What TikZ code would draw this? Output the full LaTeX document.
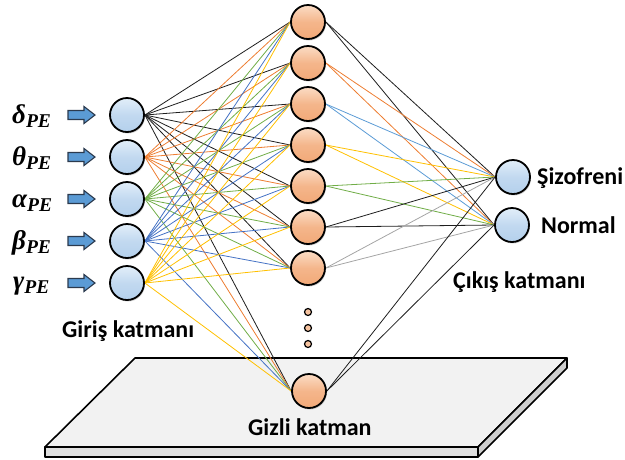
\documentclass[tikz,border=0pt]{standalone}
\usepackage{fontspec}
\setmainfont{Carlito}
\newfontfamily\greekfont{Liberation Serif}
\usetikzlibrary{shadows}
\pgfdeclarelayer{bg}
\pgfdeclarelayer{edges}
\pgfsetlayers{bg,edges,main}

\definecolor{cBlack}{HTML}{1E1E1E}
\definecolor{cOrange}{HTML}{ED7D31}
\definecolor{cGreen}{HTML}{70AD47}
\definecolor{cBlue}{HTML}{4472C4}
\definecolor{cLightBlue}{HTML}{5B9BD5}
\definecolor{cYellow}{HTML}{FFC000}
\definecolor{cGray}{HTML}{A5A5A5}
\definecolor{nodeBlue}{HTML}{B4D0EC}
\definecolor{nodeBlueLt}{HTML}{E2EEF9}
\definecolor{nodeOrange}{HTML}{F2A978}
\definecolor{nodeOrangeLt}{HTML}{FBDCC5}
\definecolor{plate}{HTML}{F2F2F2}
\definecolor{arrowFill}{HTML}{5B9BD5}
\definecolor{arrowEdge}{HTML}{2B3A4E}

% bold italic Greek letter with a bold italic subscript
\newcommand{\gsym}[1]{{\greekfont\bfseries\itshape #1\raisebox{-4pt}{\fontsize{19.5}{19.5}\selectfont PE}}}

\begin{document}
\begin{tikzpicture}[x=1pt,y=-1pt,
  neuron/.style={circle, minimum size=34pt, inner sep=0pt, draw=black, line width=1.8pt,
    drop shadow={shadow xshift=1pt, shadow yshift=-1.5pt, opacity=0.35}},
  bluen/.style={neuron, top color=nodeBlueLt, bottom color=nodeBlue, middle color=nodeBlue!70!nodeBlueLt},
  orangen/.style={neuron, top color=nodeOrangeLt, bottom color=nodeOrange, middle color=nodeOrange!75!nodeOrangeLt},
  dotn/.style={circle, minimum size=7pt, inner sep=0pt, draw=black, line width=1.2pt, fill=nodeOrange!70!white},
  inarrow/.style={draw=arrowEdge, fill=arrowFill, line width=1.1pt, line join=miter},
  lbl/.style={font=\fontsize{24}{26}\selectfont\bfseries, inner sep=0pt, anchor=base west},
  glbl/.style={font=\fontsize{27}{29}\selectfont, inner sep=0pt, anchor=base west},
  link/.style={line width=0.8pt}
]
\useasboundingbox (0,0) rectangle (625,459);

% platform under the hidden layer
\begin{pgfonlayer}{bg}
  \draw[line width=1.6pt, line join=round, fill=plate]
    (135,358) -- (567,358) -- (478,447) -- (45,447) -- cycle;
  \draw[line width=1.6pt, line join=round, fill=plate!92!black]
    (45,447) -- (478,447) -- (478,457) -- (45,457) -- cycle;
  \draw[line width=1.6pt, line join=round, fill=plate!85!black]
    (567,358) -- (567,368) -- (478,457) -- (478,447) -- cycle;
\end{pgfonlayer}

% input layer
\foreach \i/\y in {1/115,2/157,3/199,4/241,5/283}
  \node[bluen] (i\i) at (127,\y) {};

% hidden layer
\foreach \i/\y in {1/22,2/63,3/104,4/145,5/186,6/227,7/268}
  \node[orangen] (h\i) at (308,\y) {};
\node[orangen] (h8) at (309,391) {};
\node[dotn] (d1) at (308,312) {};
\node[dotn] (d2) at (308,328) {};
\node[dotn] (d3) at (308,344) {};

% output layer
\node[bluen] (o1) at (513,177) {};
\node[bluen] (o2) at (512,225) {};

% input symbols
\node[glbl] (g1) at (12,123) {\gsym{δ}};
\node[glbl] (g2) at (12,165) {\gsym{θ}};
\node[glbl] (g3) at (12,207) {\gsym{α}};
\node[glbl] (g4) at (12,249) {\gsym{β}};
\node[glbl] (g5) at (13,289) {\gsym{γ}};

% block arrows feeding the input layer
\foreach \y in {115,157,199,241,283}
  \draw[inarrow] (68,\y-4.5) -- (84,\y-4.5) -- (84,\y-8.5) -- (95,\y)
    -- (84,\y+8.5) -- (84,\y+4.5) -- (68,\y+4.5) -- cycle;

% layer captions
\node[lbl] (tin)  at (62,337)  {Giriş katmanı};
\node[lbl] (thid) at (248,435) {Gizli katman};
\node[lbl] (tout) at (453,288) {Çıkış katmanı};
\node[lbl] (ts)   at (537,184) {Şizofreni};
\node[lbl] (tn)   at (541,233) {Normal};

% connections
\begin{pgfonlayer}{edges}
  \foreach \i/\c in {1/cBlack,2/cOrange,3/cGreen,4/cBlue,5/cYellow}
    \foreach \h in {1,...,8}
      \draw[link, \c] (i\i.east) -- (h\h.west);
  \foreach \h/\c in {1/cBlack,2/cOrange,3/cLightBlue,4/cYellow,5/cGreen,6/cBlack,7/cGray,8/cBlack}
    \foreach \o in {1,2}
      \draw[link, \c] (h\h.east) -- (o\o.west);
\end{pgfonlayer}
\end{tikzpicture}
\end{document}
